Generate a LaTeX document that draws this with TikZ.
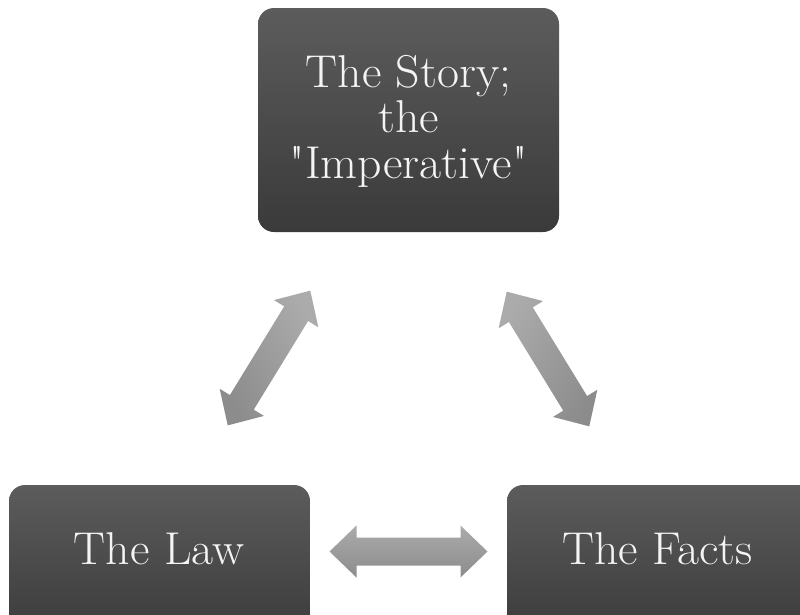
\documentclass[tikz,border=0pt]{standalone}
\tikzset{
  boxfill/.style={rounded corners=16pt, top color=boxtop, bottom color=boxbot, draw=none},
  boxtext/.style={text=boxtxt, font=\fontsize{46}{45.5}\selectfont, align=center, inner sep=0pt, xscale=1.04},
  dblarrow/.pic={
    \shade[shading=axis, top color=arrtop, bottom color=arrbot, shading angle=#1]
      (-79pt,0) -- (-52pt,26pt) -- (-52pt,14pt) -- (52pt,14pt) -- (52pt,26pt)
      -- (79pt,0) -- (52pt,-26pt) -- (52pt,-14pt) -- (-52pt,-14pt) -- (-52pt,-26pt) -- cycle;
  }
}
\definecolor{boxtop}{HTML}{5C5C5C}
\definecolor{boxbot}{HTML}{3A3A3A}
\definecolor{boxtxt}{HTML}{F4F4F4}
\definecolor{arrtop}{HTML}{ABABAB}
\definecolor{arrbot}{HTML}{8C8C8C}
\begin{document}
\begin{tikzpicture}[x=1pt,y=1pt]
\useasboundingbox (0,0) rectangle (800,-614);
\clip (0,0) rectangle (800,-614);
% boxes
\shade[boxfill] (258,-8) rectangle (559,-232);
\shade[boxfill] (9,-485) rectangle (310,-640);
\shade[boxfill] (507,-485) rectangle (830,-640);
% texts
\node[boxtext, anchor=base] (story) at (408.5,-178) {The Story;\\the\\\textquotedbl Imperative\textquotedbl};
\node[boxtext, anchor=base] (law) at (159,-564) {The Law};
\node[boxtext, anchor=base] (facts) at (657.5,-564) {The Facts};
% arrows
\coordinate (arrL) at (269,-358);
\coordinate (arrR) at (548,-359);
\coordinate (arrB) at (408.5,-551.5);
\pic[rotate=58.5] at (arrL) {dblarrow=-58.5};
\pic[rotate=-58.5] at (arrR) {dblarrow=58.5};
\pic at (arrB) {dblarrow=0};
\end{tikzpicture}
\end{document}
